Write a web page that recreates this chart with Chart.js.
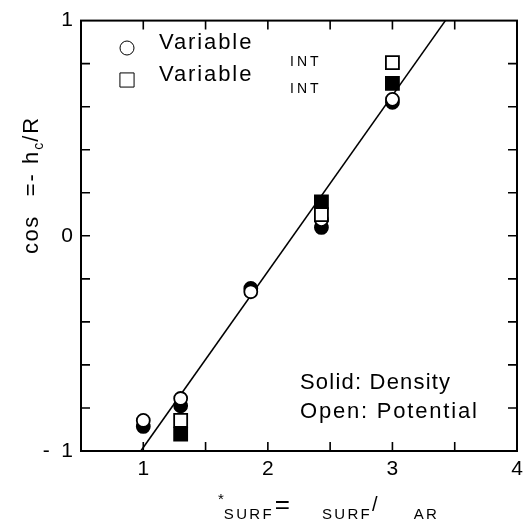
<!DOCTYPE html>
<html>
<head>
<meta charset="utf-8">
<script src="https://cdn.jsdelivr.net/npm/chart.js@4/dist/chart.umd.min.js"></script>
<style>
  html, body { margin: 0; padding: 0; background: #fff; }
  #wrap { width: 531px; height: 527px; }
</style>
</head>
<body>
<div id="wrap"><canvas id="c" width="531" height="527"></canvas></div>
<script>
const FONT = '"Liberation Sans", Arial, sans-serif';

// axis ranges and labelled ticks
const xRange = [0.5, 4];
const yRange = [-1, 1];
const xLabels = { 1: '1', 2: '2', 3: '3', 4: '4' };
const yLabels = { '-1': '-  1', '0': '0', '1': '1' };

// circles: five runs
const circleX = [1.0, 1.3, 1.863, 2.43, 3.0];
const circleDensity = [-0.886, -0.79, -0.245, 0.039, 0.62];
const circlePotential = [-0.858, -0.756, -0.26, 0.075, 0.634];

// squares: three runs
const squareX = [1.3, 2.43, 3.0];
const squareDensity = [-0.922, 0.157, 0.708];
const squarePotential = [-0.858, 0.098, 0.805];

// fitted line
const fitX = [0.98, 3.425];
const fitY = [-1, 1];

const pts = (xs, ys) => xs.map((x, i) => ({ x, y: ys[i] }));

const openCircle = { pointStyle: 'circle', pointRadius: 6.5, pointBackgroundColor: '#fff', pointBorderColor: '#000', pointBorderWidth: 1.8 };
const solidCircle = { pointStyle: 'circle', pointRadius: 6.5, pointBackgroundColor: '#000', pointBorderColor: '#000', pointBorderWidth: 1.8 };
const openSquare = { pointStyle: 'rect', pointRadius: 9.2, pointBackgroundColor: '#fff', pointBorderColor: '#000', pointBorderWidth: 1.8 };
const solidSquare = { pointStyle: 'rect', pointRadius: 9.2, pointBackgroundColor: '#000', pointBorderColor: '#000', pointBorderWidth: 1.8 };

function text(ctx, s, x, y, size, spacing, align) {
  ctx.font = size + 'px ' + FONT;
  ctx.letterSpacing = (spacing || 0) + 'px';
  ctx.textAlign = align || 'left';
  ctx.fillText(s, x, y);
  return ctx.measureText(s).width;
}

// frame, inward ticks, titles, legend and notes
const decor = {
  id: 'decor',
  beforeDatasetsDraw(chart) {
    const { ctx, chartArea: a, scales: { x, y } } = chart;
    ctx.save();
    ctx.strokeStyle = '#000';
    ctx.lineWidth = 1.6;
    ctx.beginPath();
    x.ticks.forEach(t => {
      const px = x.getPixelForValue(t.value);
      if (px <= a.left + 1 || px >= a.right - 1) return;
      ctx.moveTo(px, a.bottom); ctx.lineTo(px, a.bottom - 9);
      ctx.moveTo(px, a.top); ctx.lineTo(px, a.top + 9);
    });
    y.ticks.forEach(t => {
      const py = y.getPixelForValue(t.value);
      if (py <= a.top + 1 || py >= a.bottom - 1) return;
      ctx.moveTo(a.left, py); ctx.lineTo(a.left + 9, py);
      ctx.moveTo(a.right, py); ctx.lineTo(a.right - 9, py);
    });
    ctx.stroke();
    ctx.lineWidth = 2;
    ctx.strokeRect(a.left, a.top, a.right - a.left, a.bottom - a.top);
    ctx.restore();
  },
  afterDraw(chart) {
    const { ctx } = chart;
    ctx.save();
    ctx.fillStyle = '#000';
    ctx.textBaseline = 'alphabetic';

    // legend
    ctx.strokeStyle = '#000'; ctx.fillStyle = '#fff';
    Chart.helpers.drawPoint(ctx, { pointStyle: 'circle', radius: 7, borderWidth: 1.5 }, 127, 48);
    Chart.helpers.drawPoint(ctx, { pointStyle: 'rect', radius: 10, borderWidth: 1.5 }, 127, 80);
    ctx.fillStyle = '#000';
    text(ctx, 'Variable', 159, 49, 22, 1.9);
    text(ctx, 'INT', 290, 66, 14, 3);
    text(ctx, 'Variable', 159, 81, 22, 1.9);
    text(ctx, 'INT', 290, 93, 14, 3);

    // notes
    text(ctx, 'Solid: Density', 300, 389, 22, 1.2);
    text(ctx, 'Open: Potential', 300, 418, 22, 1.8);

    // x title
    let cx = 218;
    cx += text(ctx, '*', cx, 504, 15, 0);
    cx += text(ctx, 'SURF', cx, 519, 15, 2.3) + 1;
    cx += text(ctx, '=', cx, 513, 26, 0) + 32;
    cx += text(ctx, 'SURF', cx, 519, 15, 2.3);
    cx += text(ctx, '/', cx, 511, 20, 0) + 36;
    text(ctx, 'AR', cx, 519, 15, 2.3);

    // y title, rotated
    ctx.translate(38, 254);
    ctx.rotate(-Math.PI / 2);
    let cy = 0;
    cy += text(ctx, 'cos', cy, 0, 22, 1.5) + 19;
    cy += text(ctx, '=- h', cy, 0, 22, 2);
    cy += text(ctx, 'c', cy, 5, 14, 1);
    text(ctx, '/R', cy, 0, 22, 2);
    ctx.restore();
  }
};

new Chart(document.getElementById('c').getContext('2d'), {
  type: 'scatter',
  data: {
    datasets: [
      { data: pts(squareX, squarePotential), ...openSquare },
      { data: pts(circleX, circlePotential), ...openCircle },
      { data: pts(squareX, squareDensity), ...solidSquare },
      { data: pts(circleX, circleDensity), ...solidCircle },
      { data: pts(fitX, fitY), showLine: true, borderColor: '#000', borderWidth: 1.6, pointRadius: 0 }
    ]
  },
  options: {
    responsive: false,
    animation: false,
    layout: { padding: { top: 14, right: 14, left: 0, bottom: 0 } },
    plugins: { legend: { display: false }, tooltip: { enabled: false } },
    scales: {
      x: {
        type: 'linear', min: xRange[0], max: xRange[1],
        grid: { display: false, drawTicks: false },
        border: { display: false },
        afterFit: s => { s.height = 76; },
        ticks: {
          stepSize: 0.5, padding: 6, color: '#000', maxRotation: 0, autoSkip: false,
          font: { family: FONT, size: 21 },
          callback: v => xLabels[v] || ''
        }
      },
      y: {
        type: 'linear', min: yRange[0], max: yRange[1],
        grid: { display: false, drawTicks: false },
        border: { display: false },
        afterFit: s => { s.width = 81; },
        ticks: {
          stepSize: 0.2, padding: 8, color: '#000', autoSkip: false,
          font: { family: FONT, size: 21 },
          callback: v => yLabels[String(Math.round(v * 10) / 10)] || ''
        }
      }
    }
  },
  plugins: [decor]
});
</script>
</body>
</html>
